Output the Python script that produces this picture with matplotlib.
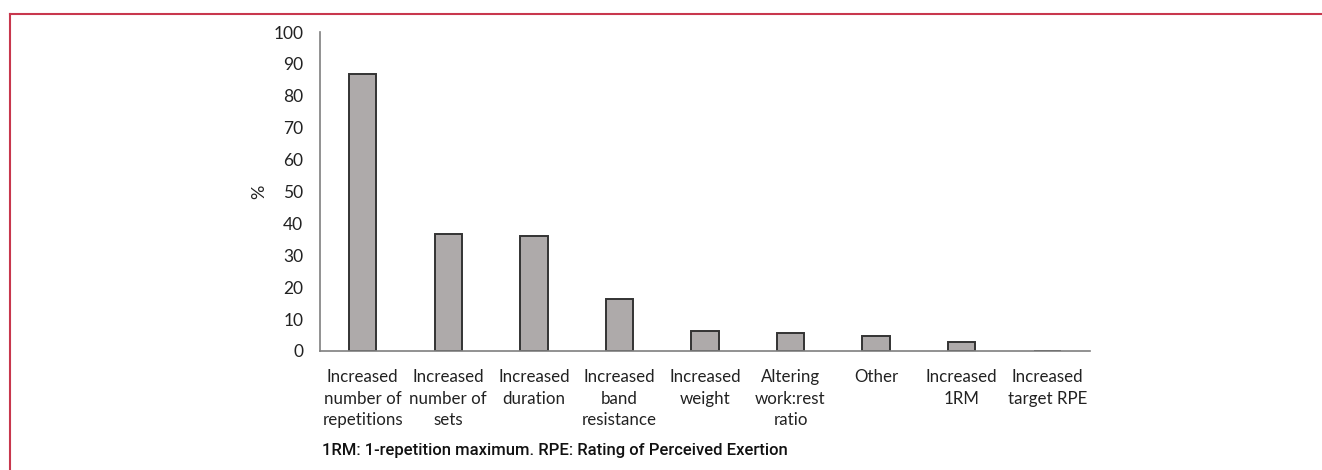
import matplotlib
matplotlib.use("Agg")
import matplotlib.pyplot as plt
from matplotlib.lines import Line2D
import numpy as np

# Дані для діаграми
categories = [
    "Increased\nnumber of\nrepetitions",
    "Increased\nnumber of\nsets",
    "Increased\nduration",
    "Increased\nband\nresistance",
    "Increased\nweight",
    "Altering\nwork:rest\nratio",
    "Other",
    "Increased\n1RM",
    "Increased\ntarget RPE",
]
percentages = [86.8, 36.6, 36.1, 16.3, 6.3, 5.7, 4.8, 2.7, 0.0]
y_ticks = [0, 10, 20, 30, 40, 50, 60, 70, 80, 90, 100]
footnote = "1RM: 1-repetition maximum. RPE: Rating of Perceived Exertion"

plt.rcParams['font.family'] = ['Lato', 'DejaVu Sans']

fig = plt.figure(figsize=(13.22, 4.70), dpi=100)
ax = fig.add_axes([0.242, 0.2532, 0.5825, 0.6787])

x = np.arange(len(categories))
ax.bar(x, percentages, width=0.32, color='#aeaaaa', edgecolor='#333333', linewidth=1.4)

ax.set_xlim(-0.5, len(categories) - 0.5)
ax.set_ylim(0, 100)
ax.set_yticks(y_ticks)
ax.set_xticks(x)
ax.set_xticklabels(categories, fontsize=12.2, color='#222222', linespacing=1.42)
ax.tick_params(axis='y', length=0, pad=12, labelsize=12.5, labelcolor='#222222')
ax.tick_params(axis='x', length=0, pad=13)
ax.set_ylabel('%', fontsize=13, color='#222222', labelpad=4)

for side in ['top', 'right']:
    ax.spines[side].set_visible(False)
for side in ['left', 'bottom']:
    ax.spines[side].set_color('#7f7f7f')
    ax.spines[side].set_linewidth(1.2)

# Підпис під графіком
fig.text(322 / 1322, 1 - 451 / 470, footnote, fontsize=12, family=['Roboto', 'DejaVu Sans'],
         weight='medium', color='#111111', va='center', ha='left')

# Червона рамка зверху та зліва
red = '#c8374d'
fig.add_artist(Line2D([9.5 / 1322, 1.0], [1 - 14 / 470, 1 - 14 / 470], color=red, linewidth=1.5,
                      transform=fig.transFigure))
fig.add_artist(Line2D([9.5 / 1322, 9.5 / 1322], [0.0, 1 - 14 / 470], color=red, linewidth=1.5,
                      transform=fig.transFigure))

fig.savefig('out.png', dpi=100)
